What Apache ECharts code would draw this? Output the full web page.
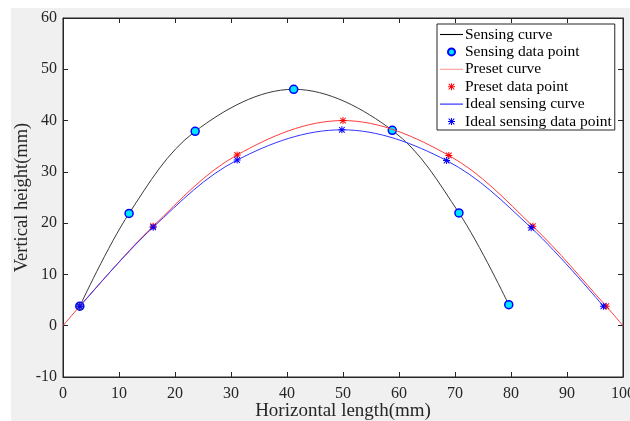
<!DOCTYPE html>
<html>
<head>
<meta charset="utf-8">
<script src="https://cdn.jsdelivr.net/npm/echarts@6/dist/echarts.min.js"></script>
<style>
html,body{margin:0;padding:0;background:#ffffff;}
#bg{position:absolute;left:11px;top:8px;width:619px;height:413px;background:#f0f0f0;}
#chart{position:absolute;left:0;top:0;width:630px;height:421px;}
</style>
</head>
<body>
<div id="bg"></div>
<div id="chart"></div>
<script>
// ---- data ----
const sensingX = [3, 11.8, 23.6, 41.2, 58.8, 70.7, 79.6];
const sensingY = [3.8, 21.9, 37.9, 46.1, 38.1, 22.0, 4.1];

const presetCurveX = [0, 3, 16.1, 31.1, 50, 68.9, 83.9, 97, 100];
const presetCurveY = [0, 3.8, 19.4, 33.3, 40.0, 33.2, 19.4, 3.8, 0];

const presetX = [3, 16.1, 31.1, 50, 68.9, 83.9, 97];
const presetY = [3.8, 19.4, 33.3, 40.0, 33.2, 19.4, 3.8];

const idealX = [3, 16.1, 31.1, 49.8, 68.5, 83.6, 96.5];
const idealY = [3.8, 19.2, 32.3, 38.2, 32.2, 19.1, 3.8];

const seriesNames = ['Sensing curve', 'Sensing data point', 'Preset curve', 'Preset data point', 'Ideal sensing curve', 'Ideal sensing data point'];
const xTicks = {min: 0, max: 100, interval: 10};
const yTicks = {min: -10, max: 60, interval: 10};
const xTitle = 'Horizontal length(mm)';
const yTitle = 'Vertical height(mm)';

const pair = (xs, ys) => xs.map((x, i) => [x, ys[i]]);
const STAR = 'path://M-0.7,-5L0.7,-5L0.7,5L-0.7,5Z M-5,-0.7L5,-0.7L5,0.7L-5,0.7Z M-4.5,-3.5L-3.5,-4.5L4.5,3.5L3.5,4.5Z M3.5,-4.5L4.5,-3.5L-3.5,4.5L-4.5,3.5Z';
const LINE_ICON = 'path://M0,0L23,0L23,1.1L0,1.1Z';
const FONT = '"Liberation Serif", "Times New Roman", serif';
const AX = '#262626';
const SM = 0.35;

const chart = echarts.init(document.getElementById('chart'), null, {renderer: 'canvas'});
const baseAxis = (t) => ({
  type: 'value', min: t.min, max: t.max, interval: t.interval,
  axisLine: {show: true, onZero: false, lineStyle: {color: AX, width: 1}},
  axisTick: {show: true, inside: true, length: 5, lineStyle: {color: AX}},
  splitLine: {show: false}
});
chart.setOption({
  animation: false,
  grid: {left: 63, right: 7, top: 18, bottom: 44, outerBoundsMode: 'none', containLabel: false,
         show: true, backgroundColor: '#ffffff', borderColor: AX, borderWidth: 1},
  xAxis: [
    Object.assign(baseAxis(xTicks), {
      position: 'bottom',
      name: xTitle, nameLocation: 'middle', nameGap: 25, nameMoveOverlap: false,
      nameTextStyle: {fontFamily: FONT, fontSize: 19, color: AX},
      axisLabel: {fontFamily: FONT, fontSize: 16, color: AX, margin: 9}
    }),
    Object.assign(baseAxis(xTicks), {position: 'top', axisLabel: {show: false}})
  ],
  yAxis: [
    Object.assign(baseAxis(yTicks), {
      position: 'left',
      name: yTitle, nameLocation: 'middle', nameGap: 31, nameMoveOverlap: false,
      nameTextStyle: {fontFamily: FONT, fontSize: 18.5, color: AX},
      axisLabel: {fontFamily: FONT, fontSize: 16, color: AX, margin: 6}
    }),
    Object.assign(baseAxis(yTicks), {position: 'right', axisLabel: {show: false}})
  ],
  legend: {
    orient: 'vertical', left: 437, top: 24,
    backgroundColor: '#ffffff', borderColor: AX, borderWidth: 1,
    padding: [2.5, 3, 0.5, 3], itemGap: 1.4, itemWidth: 23, itemHeight: 7,
    textStyle: {fontFamily: FONT, fontSize: 15.5, color: '#000', lineHeight: 16, padding: [0, 0, 0, -3]},
    data: [
      {name: seriesNames[0], icon: LINE_ICON, itemStyle: {color: '#000000'}},
      {name: seriesNames[1]},
      {name: seriesNames[2], icon: LINE_ICON, itemStyle: {color: '#ff9a9a'}},
      {name: seriesNames[3]},
      {name: seriesNames[4], icon: LINE_ICON, itemStyle: {color: '#2020ff'}},
      {name: seriesNames[5]}
    ]
  },
  series: [
    {name: seriesNames[0], type: 'line', data: pair(sensingX, sensingY), smooth: SM, symbol: 'none',
     lineStyle: {color: '#3a3a3a', width: 1}, itemStyle: {color: '#000000'}, z: 2},
    {name: seriesNames[1], type: 'scatter', data: pair(sensingX, sensingY), symbol: 'circle', symbolSize: 8,
     itemStyle: {color: '#00e5ff', borderColor: '#0000ff', borderWidth: 1.5, opacity: 1}, z: 3},
    {name: seriesNames[2], type: 'line', data: pair(presetCurveX, presetCurveY), smooth: SM, symbol: 'none',
     lineStyle: {color: '#ff3b3b', width: 1}, itemStyle: {color: '#ff9a9a'}, z: 4},
    {name: seriesNames[3], type: 'scatter', data: pair(presetX, presetY), symbol: STAR, symbolSize: 7,
     itemStyle: {color: '#ff0000', opacity: 1}, z: 5},
    {name: seriesNames[4], type: 'line', data: pair(idealX, idealY), smooth: SM, symbol: 'none',
     lineStyle: {color: '#3333ff', width: 1}, itemStyle: {color: '#2020ff'}, z: 6},
    {name: seriesNames[5], type: 'scatter', data: pair(idealX, idealY), symbol: STAR, symbolSize: 7,
     itemStyle: {color: '#0000ff', opacity: 1}, z: 7}
  ]
});
</script>
</body>
</html>
